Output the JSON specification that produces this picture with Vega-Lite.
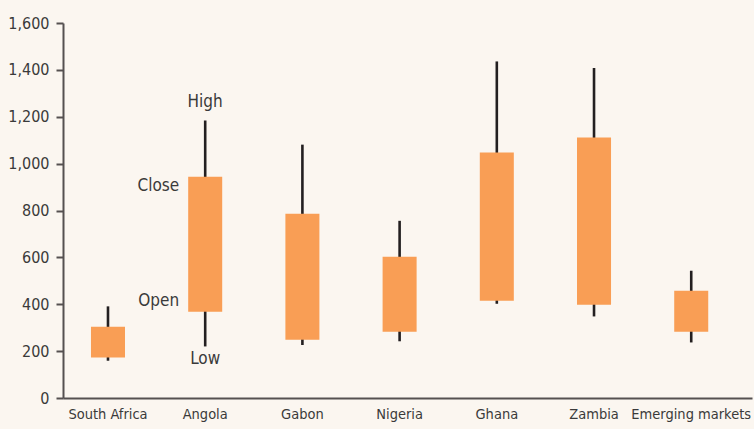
{
  "$schema": "https://vega.github.io/schema/vega-lite/v6.json",
  "width": 689,
  "height": 375,
  "autosize": {"type": "none"},
  "padding": {"left": 63, "top": 23, "right": 2, "bottom": 31},
  "background": "#FBF6F0",
  "config": {
    "view": {"stroke": null},
    "font": "DejaVu Sans Condensed",
    "axis": {"labelFont": "DejaVu Sans Condensed", "labelColor": "#3a3a3a", "domainColor": "#555050", "tickColor": "#555050", "grid": false}
  },
  "datasets": {
    "ohlc": [
      {"country": "South Africa", "open": 173, "close": 304, "low": 159, "high": 391},
      {"country": "Angola", "open": 368, "close": 944, "low": 220, "high": 1184},
      {"country": "Gabon", "open": 249, "close": 786, "low": 226, "high": 1081},
      {"country": "Nigeria", "open": 283, "close": 603, "low": 242, "high": 756},
      {"country": "Ghana", "open": 415, "close": 1047, "low": 402, "high": 1436},
      {"country": "Zambia", "open": 398, "close": 1112, "low": 348, "high": 1408},
      {"country": "Emerging markets", "open": 283, "close": 458, "low": 237, "high": 543}
    ],
    "notes": [
      {"country": "Angola", "label": "High", "value": 1262, "side": "center"},
      {"country": "Angola", "label": "Low", "value": 165, "side": "center"},
      {"country": "Angola", "label": "Close", "value": 903, "side": "left"},
      {"country": "Angola", "label": "Open", "value": 412, "side": "left"}
    ]
  },
  "encoding": {
    "x": {
      "field": "country",
      "type": "nominal",
      "sort": null,
      "scale": {"paddingInner": 0.65, "paddingOuter": 0.369, "align": 0.39},
      "axis": {"title": null, "labelAngle": 0, "ticks": false, "labelFontSize": 14.5, "labelPadding": 9, "domainWidth": 2, "labelBaseline": "top"}
    }
  },
  "layer": [
    {
      "data": {"name": "ohlc"},
      "mark": {"type": "rule", "color": "#231F20", "strokeWidth": 2.6},
      "encoding": {
        "y": {
          "field": "low",
          "type": "quantitative",
          "scale": {"domain": [0, 1600], "nice": false},
          "axis": {"title": null, "values": [0, 200, 400, 600, 800, 1000, 1200, 1400, 1600], "format": ",d", "tickSize": 7, "tickWidth": 2, "domainWidth": 2, "labelFontSize": 16, "labelPadding": 7}
        },
        "y2": {"field": "high"}
      }
    },
    {
      "data": {"name": "ohlc"},
      "mark": {"type": "bar", "color": "#F99E55"},
      "encoding": {
        "y": {"field": "open", "type": "quantitative"},
        "y2": {"field": "close"}
      }
    },
    {
      "data": {"name": "notes"},
      "transform": [{"filter": "datum.side == 'center'"}],
      "mark": {"type": "text", "fontSize": 17, "color": "#3a3a3a", "align": "center", "baseline": "middle"},
      "encoding": {
        "y": {"field": "value", "type": "quantitative"},
        "text": {"field": "label"}
      }
    },
    {
      "data": {"name": "notes"},
      "transform": [{"filter": "datum.side == 'left'"}],
      "mark": {"type": "text", "fontSize": 17, "color": "#3a3a3a", "align": "right", "baseline": "middle", "dx": -26},
      "encoding": {
        "y": {"field": "value", "type": "quantitative"},
        "text": {"field": "label"}
      }
    }
  ]
}
